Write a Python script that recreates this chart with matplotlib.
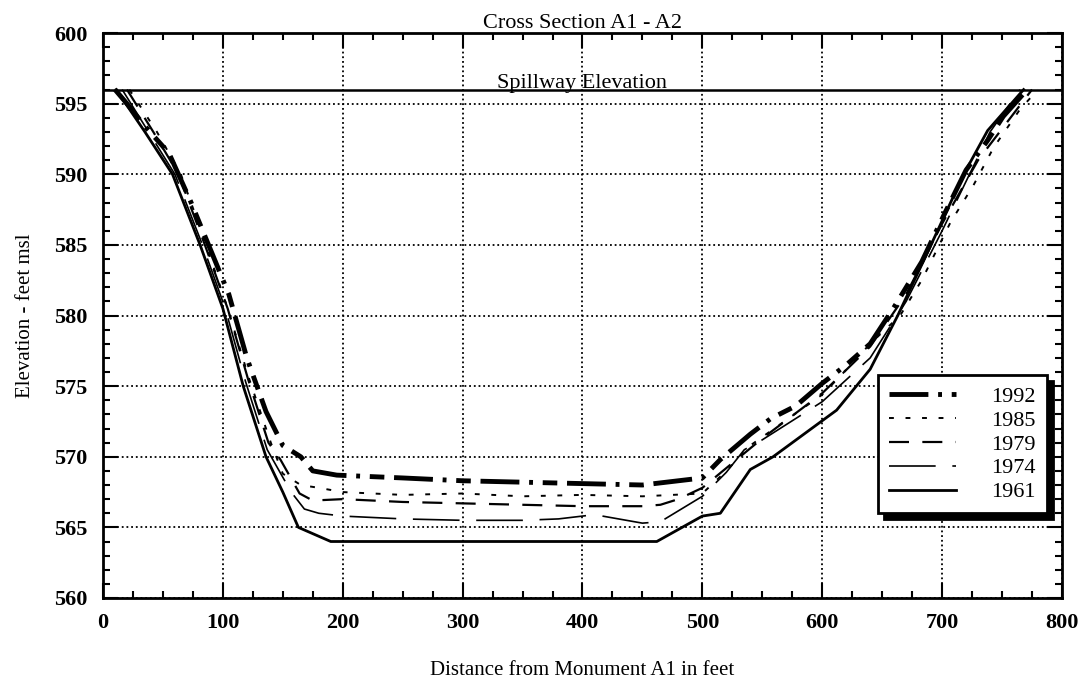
import matplotlib
matplotlib.use("Agg")
import matplotlib.pyplot as plt
from matplotlib.ticker import MultipleLocator

plt.rcParams['font.family'] = ['Liberation Serif', 'DejaVu Serif']

# ---------------- data ----------------
x_1992 = [10, 20, 35, 55, 73, 90, 105, 120, 136, 150, 165, 175, 195, 250, 300, 350, 400, 450, 500,
          515, 540, 557, 578, 600, 620, 640, 660, 683, 702, 720, 738, 751, 771]
y_1992 = [596, 595, 593.4, 591.5, 588.1, 584.6, 581.5, 577, 573.2, 570.8, 570, 569, 568.7, 568.5, 568.3,
          568.2, 568.1, 568.0, 568.5, 569.8, 571.6, 572.7, 573.6, 575.2, 576.5, 578, 580.6, 583.8, 587.2,
          590.3, 592.4, 594.1, 596]

x_1985 = [22, 45, 65, 86, 104, 122, 140, 150, 165, 180, 200, 250, 300, 350, 400, 450, 500,
          520, 540, 560, 600, 616, 640, 665, 683, 707, 726, 743, 765, 780]
y_1985 = [596, 593, 590, 585, 580.5, 575.5, 571, 568.8, 568, 567.8, 567.5, 567.3, 567.4, 567.2, 567.3,
          567.2, 567.4, 569, 570.8, 572, 574.4, 575.8, 578, 580, 582.5, 586.6, 589.2, 591.9, 594.6, 596]

x_1979 = [20, 42, 63, 85, 104, 121, 138, 148, 164, 175, 200, 250, 300, 350, 400, 450, 465, 480, 500,
          520, 550, 600, 640, 670, 700, 730, 775]
y_1979 = [596, 593, 590, 585, 580.5, 575.5, 571, 569.8, 567.4, 566.9, 567, 566.8, 566.7, 566.6, 566.5,
          566.5, 566.6, 567, 567.8, 569.2, 571.3, 574.5, 577.8, 581.5, 586.5, 591, 596]

x_1974 = [16, 38, 60, 83, 102, 119, 137, 147, 157, 168, 180, 200, 250, 300, 350, 380, 410, 450, 465,
          500, 520, 535, 550, 600, 640, 670, 700, 740, 765]
y_1974 = [596, 593, 590, 585, 580.5, 575.3, 570.5, 569, 567.5, 566.3, 566, 565.8, 565.6, 565.5, 565.5,
          565.6, 565.9, 565.3, 565.4, 567.2, 568.9, 570.5, 571.2, 573.9, 577, 581, 586, 593, 596]

x_1961 = [11, 35, 58, 81, 100, 117, 136, 150, 163, 190, 462, 500, 515, 540, 559, 612, 640, 663, 688,
          718, 738, 768]
y_1961 = [596, 593, 590, 585, 580.5, 575, 570, 567.5, 565, 564, 564, 565.8, 566, 569.1, 570, 573.3,
          576.2, 580, 584.5, 590, 593.1, 596]

spillway = 596
title = "Cross Section A1 - A2"
xlabel = "Distance from Monument A1 in feet"
ylabel = "Elevation - feet msl"

# ---------------- figure ----------------
fig = plt.figure(figsize=(10.91, 6.79), dpi=100)
ax = fig.add_axes([0.0944, 0.1193, 0.879, 0.832])

ax.axhline(spillway, color='black', lw=1.8, zorder=3)
ax.text(400, spillway + 0.1, "Spillway Elevation", ha='center', va='baseline',
        fontsize=16, zorder=4)

l92, = ax.plot(x_1992, y_1992, color='black', lw=3.5, label='1992', solid_capstyle='butt')
l92.set_dashes([8, 2, 0.8, 2, 3, 2])
l85, = ax.plot(x_1985, y_1985, color='black', lw=1.4, label='1985')
l85.set_dashes([2.5, 6])
l79, = ax.plot(x_1979, y_1979, color='black', lw=1.6, label='1979')
l79.set_dashes([9, 6])
l74, = ax.plot(x_1974, y_1974, color='black', lw=1.2, label='1974')
l74.set_dashes([28, 10])
l61, = ax.plot(x_1961, y_1961, color='black', lw=2.0, label='1961')

ax.set_xlim(0, 800)
ax.set_ylim(560, 600)
ax.xaxis.set_major_locator(MultipleLocator(100))
ax.xaxis.set_minor_locator(MultipleLocator(25))
ax.yaxis.set_major_locator(MultipleLocator(5))
ax.yaxis.set_minor_locator(MultipleLocator(1))
ax.grid(True, which='major', color='black', linestyle=(0, (1, 1.6)), lw=1.3)
ax.tick_params(which='both', direction='in', top=True, right=True, width=1.5)
ax.tick_params(which='major', length=11, pad=11, labelsize=16)
ax.tick_params(which='minor', length=5)
for lab in ax.get_xticklabels() + ax.get_yticklabels():
    lab.set_fontweight('bold')
for s in ax.spines.values():
    s.set_linewidth(2)

ax.set_title(title, fontsize=16, pad=3)
ax.set_xlabel(xlabel, fontsize=15, labelpad=20)
ax.set_ylabel(ylabel, fontsize=15, labelpad=14)

leg = ax.legend(loc='lower right', bbox_to_anchor=(0.996, 0.13), fontsize=16,
                frameon=True, fancybox=False, edgecolor='black', handlelength=3.0,
                labelspacing=0.15, borderpad=0.5, handletextpad=1.6,
                shadow={'color': 'black', 'alpha': 1, 'ox': 4, 'oy': -4})
leg.get_frame().set_linewidth(2)
leg.get_frame().set_alpha(1)

fig.savefig("out.png", dpi=100, facecolor='white')
